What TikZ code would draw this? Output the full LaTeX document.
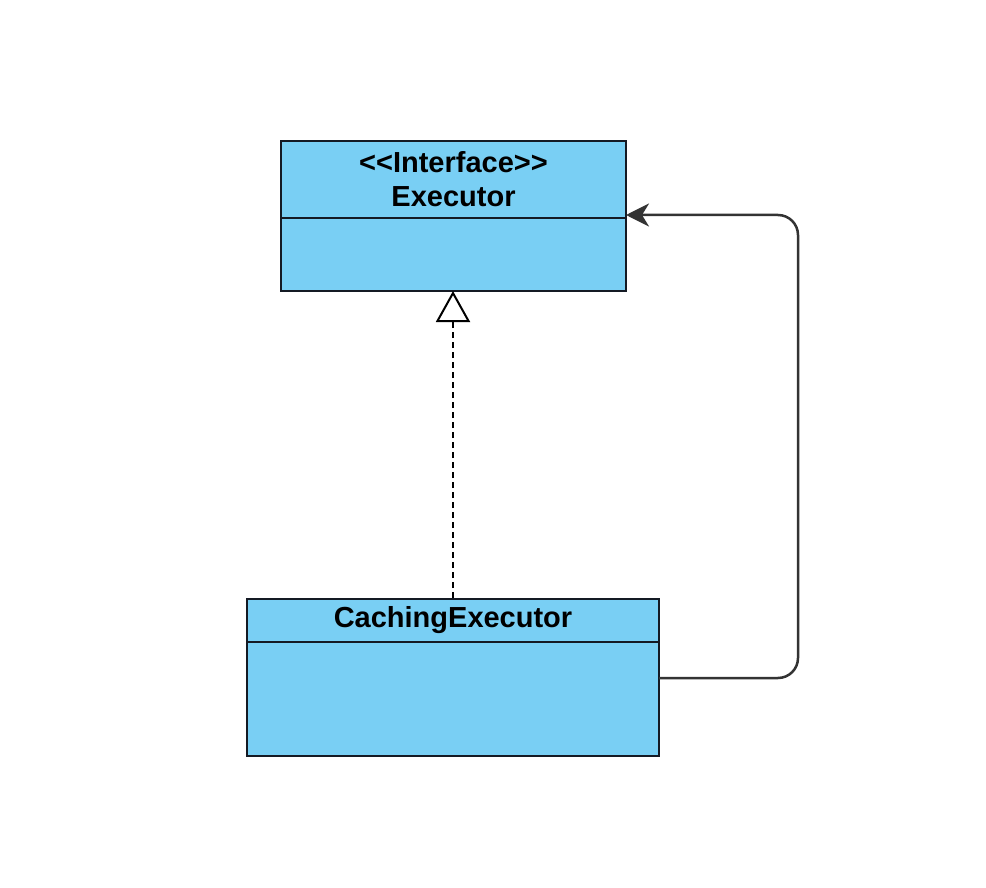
\documentclass[tikz,border=0pt]{standalone}
\usepackage{fontspec}
\setmainfont{Liberation Sans}
\usetikzlibrary{arrows.meta}
\definecolor{boxfill}{HTML}{79CFF4}
\definecolor{boxline}{HTML}{141a24}
\definecolor{wire}{HTML}{333333}
\tikzset{
  umlbox/.style={draw=boxline, fill=boxfill, line width=2.5pt},
  divider/.style={draw=boxline, line width=2.5pt},
  lbl/.style={inner sep=0pt, font=\fontsize{29}{34}\selectfont\bfseries, text=black},
  realize/.style={draw=black, line width=2pt, dash pattern=on 6pt off 4pt, -{Triangle[open, length=31pt, width=34pt, fill=white, line width=2pt]}},
  assoc/.style={draw=wire, line width=2.5pt, rounded corners=20pt, -{Stealth[length=23pt, width=23pt, inset=7pt]}}
}
\begin{document}
\begin{tikzpicture}[x=1pt, y=-1pt]
\useasboundingbox (0,0) rectangle (986,888);
% Executor
\path[umlbox] (281,141) rectangle (626,291);
\draw[divider] (281,218) -- (626,218);
\node[lbl] (stereo) at (453.5,162) {{<}{<}Interface{>}{>}};
\node[lbl] (exname) at (453.5,197) {Executor};
\coordinate (exBottom) at (453,291);
\coordinate (exRight) at (626,215);
% CachingExecutor
\path[umlbox] (247,599) rectangle (659,756);
\draw[divider] (247,642) -- (659,642);
\node[lbl] (ceName) at (453,620) {CachingExecutor};
\coordinate (ceTop) at (453,598);
\coordinate (ceRight) at (659,678);
\coordinate (bendA) at (798,678);
\coordinate (bendB) at (798,215);
% connectors
\draw[realize] (ceTop) -- (exBottom);
\draw[assoc] (ceRight) -- (bendA) -- (bendB) -- (exRight);
\end{tikzpicture}
\end{document}
